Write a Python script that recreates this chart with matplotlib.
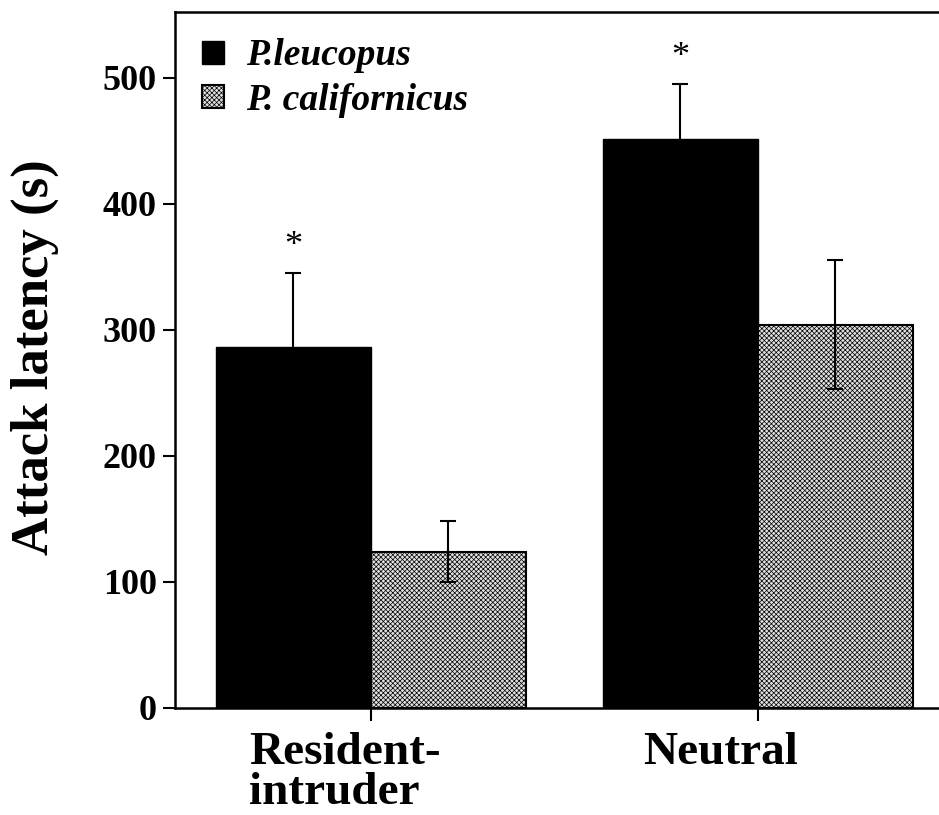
import numpy as np
import matplotlib
matplotlib.use("Agg")
import matplotlib.pyplot as plt
import matplotlib.transforms as mtransforms

# values
conditions = ["Resident-\nintruder", "Neutral"]
species = ["P.leucopus", "P. californicus"]
leucopus_mean = [286, 451]
leucopus_sem = [59, 44]
californicus_mean = [124, 304]
californicus_sem = [24, 51]
significant = [True, True]

plt.rcParams['font.family'] = ['Liberation Serif', 'DejaVu Serif']
plt.rcParams['hatch.linewidth'] = 0.5
plt.rcParams['hatch.color'] = '#333333'

fig = plt.figure(figsize=(9.39, 8.15), dpi=100)
ax = fig.add_axes([0.1864, 0.1313, 0.8136, 0.8540])

x = np.arange(len(conditions))
w = 0.4

err_kw = dict(ecolor='black', elinewidth=1.5, capsize=6, capthick=1.5)
ax.bar(x - w / 2, leucopus_mean, w, yerr=leucopus_sem, color='black',
       edgecolor='black', linewidth=1, label=species[0], error_kw=err_kw)
ax.bar(x + w / 2, californicus_mean, w, yerr=californicus_sem, color='#e0e0e0',
       edgecolor='black', linewidth=1.5, hatch='xxxxxxx', label=species[1],
       error_kw=err_kw)

# significance stars above the P. leucopus bars
for i, sig in enumerate(significant):
    if sig:
        ax.annotate('*', xy=(x[i] - w / 2, leucopus_mean[i] + leucopus_sem[i]),
                    xytext=(0, 7), textcoords='offset points',
                    ha='center', va='bottom', fontsize=26)

ax.set_xlim(-0.506, 1.468)
ax.set_ylim(0, 552)
ax.set_yticks([0, 100, 200, 300, 400, 500])
ax.set_xticks(x)
ax.set_xticklabels([])

# category labels, set a bit left of the tick as in the original
shifts = [-26, -37]
for i, name in enumerate(conditions):
    off = mtransforms.ScaledTranslation(shifts[i] / 100, -0.24, fig.dpi_scale_trans)
    ax.text(x[i], 0, name, transform=ax.get_xaxis_transform() + off,
            ha='center', va='top', multialignment='left', linespacing=0.95,
            fontsize=34, fontweight='bold')

for lab in ax.get_yticklabels():
    lab.set_fontsize(26)
    lab.set_fontweight('bold')

ax.tick_params(axis='both', direction='out', length=9, width=1.5, color='black')
ax.tick_params(axis='y', pad=4)

ax.spines['right'].set_visible(False)
for s in ['left', 'bottom', 'top']:
    ax.spines[s].set_linewidth(1.8)

fig.text(0.037, 0.562, 'Attack latency (s)', rotation=90, ha='center',
         va='center', fontsize=38, fontweight='bold')

ax.legend(loc='upper left', bbox_to_anchor=(0.035, 0.962), frameon=False,
          borderpad=0, borderaxespad=0, handlelength=0.58, handleheight=0.58,
          handletextpad=0.6, labelspacing=0.25,
          prop={'size': 27, 'weight': 'bold', 'style': 'italic'})

fig.savefig('out.png', dpi=100)
